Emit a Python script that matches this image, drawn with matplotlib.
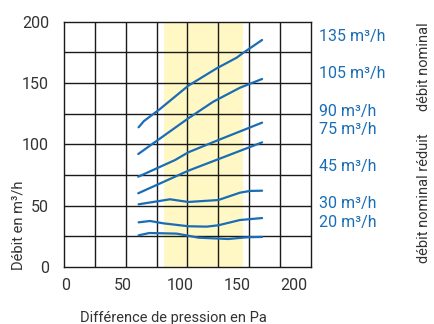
import matplotlib
matplotlib.use("Agg")
import matplotlib.pyplot as plt
import numpy as np

plt.rcParams['font.family'] = ['Roboto', 'DejaVu Sans']

# Data (x = pressure difference in Pa, y = flow in m3/h)
x_135 = [63.9, 68.6, 82.6, 107.4, 132.3, 149.8, 155.6, 172.0]
y_135 = [113.9, 119.0, 128.8, 147.8, 162.0, 170.7, 174.7, 185.1]
x_105 = [63.6, 107.4, 129.3, 152.7, 172.0]
y_105 = [92.1, 121.2, 134.8, 146.2, 153.3]
x_90 = [63.6, 95.8, 107.4, 133.7, 172.0]
y_90 = [73.6, 87.2, 93.5, 103.5, 117.7]
x_75 = [63.6, 107.4, 172.0]
y_75 = [60.1, 78.5, 101.6]
x_45 = [63.9, 91.4, 107.4, 133.7, 152.7, 161.5, 172.0]
y_45 = [51.1, 55.2, 53.0, 54.6, 60.6, 62.0, 62.2]
x_30 = [63.9, 73.9, 85.5, 107.4, 123.5, 133.7, 152.7, 172.0]
y_30 = [36.4, 37.5, 35.6, 33.2, 32.9, 34.0, 38.3, 39.9]
x_20 = [63.9, 73.3, 97.2, 107.4, 116.2, 142.5, 158.5, 172.0]
y_20 = [25.8, 27.7, 27.2, 25.5, 23.9, 22.8, 24.2, 24.5]

curve_labels = ["135 m³/h", "105 m³/h", "90 m³/h", "75 m³/h", "45 m³/h", "30 m³/h", "20 m³/h"]
label_y = [188, 158, 127, 112.5, 82, 51.5, 36]
xticks = [0, 50, 100, 150, 200]
yticks = [0, 50, 100, 150, 200]
band = (86, 155)

blue = '#1a6db5'
txt = '#333333'

fig = plt.figure(figsize=(4.34, 3.24), dpi=100)
ax = fig.add_axes([0.148, 0.176, 0.568, 0.757])
xlim = (-1.2, 214.6)
ax.set_xlim(*xlim)
ax.set_ylim(0, 200)

ax.axvspan(band[0], band[1], color='#fff8c4', zorder=0, lw=0)
for gx in np.linspace(xlim[0], xlim[1], 9)[1:-1]:
    ax.axvline(gx, color='#1a1a1a', lw=1.0, zorder=1)
for gy in np.linspace(0, 200, 9)[1:-1]:
    ax.axhline(gy, color='#1a1a1a', lw=1.0, zorder=1)

for xs, ys in [(x_135, y_135), (x_105, y_105), (x_90, y_90), (x_75, y_75),
               (x_45, y_45), (x_30, y_30), (x_20, y_20)]:
    ax.plot(xs, ys, color=blue, lw=1.6, zorder=3, solid_capstyle='round')

for s in ax.spines.values():
    s.set_color('#1a1a1a')
    s.set_linewidth(1.0)

ax.set_xticks(xticks)
ax.set_yticks(yticks)
ax.tick_params(length=0, labelsize=11.5, colors=txt)
ax.tick_params(axis='y', pad=11)
ax.tick_params(axis='x', pad=8)

for lab, ly in zip(curve_labels, label_y):
    ax.text(1.035, ly / 200, lab, transform=ax.transAxes, color=blue,
            fontsize=11.5, va='center', ha='left')

fig.text(0.043, 0.166, "Débit en m³/h", rotation=90, color=txt, fontsize=10.5,
         ha='center', va='bottom')
fig.text(0.40, 0.005, "Différence de pression en Pa", color=txt, fontsize=10.5,
         ha='center', va='baseline')
fig.text(0.978, 0.793, "débit nominal", rotation=90, color=txt, fontsize=10.5,
         ha='center', va='center')
fig.text(0.978, 0.389, "débit nominal réduit", rotation=90, color=txt, fontsize=10.5,
         ha='center', va='center')

fig.savefig("out.png", dpi=100)
